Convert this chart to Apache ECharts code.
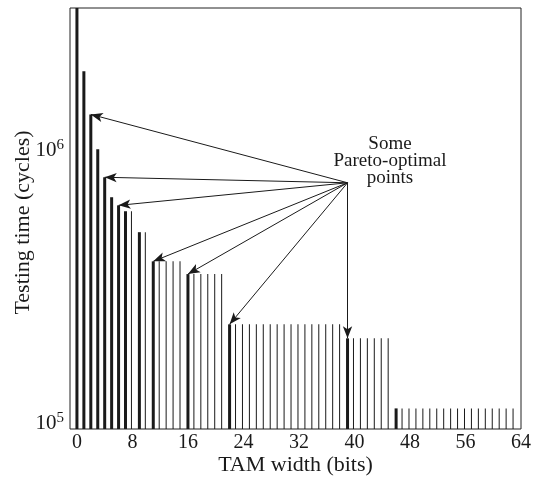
<!DOCTYPE html>
<html>
<head>
<meta charset="utf-8">
<script src="https://cdn.jsdelivr.net/npm/echarts@6/dist/echarts.min.js"></script>
<style>
  html, body { margin: 0; padding: 0; background: #fff; }
  #chart { width: 535px; height: 483px; }
</style>
</head>
<body>
<div id="chart"></div>
<script>
// testing time (cycles) for each bar, left to right
const times = [
  3.5e6, 2.05e6, 1.425e6, 1.061e6, 8.38e5, 7.08e5, 6.61e5, 6.29e5, 6.29e5, 5.27e5, 5.27e5,
  4.12e5, 4.12e5, 4.12e5, 4.12e5, 4.12e5,
  3.70e5, 3.70e5, 3.70e5, 3.70e5, 3.70e5, 3.70e5,
  2.42e5, 2.42e5, 2.42e5, 2.42e5, 2.42e5, 2.42e5, 2.42e5, 2.42e5, 2.42e5,
  2.42e5, 2.42e5, 2.42e5, 2.42e5, 2.42e5, 2.42e5, 2.42e5, 2.42e5,
  2.15e5, 2.15e5, 2.15e5, 2.15e5, 2.15e5, 2.15e5, 2.15e5,
  1.19e5, 1.19e5, 1.19e5, 1.19e5, 1.19e5, 1.19e5, 1.19e5, 1.19e5, 1.19e5,
  1.19e5, 1.19e5, 1.19e5, 1.19e5, 1.19e5, 1.19e5, 1.19e5, 1.19e5, 1.19e5
]
// bars drawn thick (time drops vs previous width)
const thickIdx = [0, 1, 2, 3, 4, 5, 6, 7, 9, 11, 16, 22, 39, 46]
// bars the arrows point at
const paretoIdx = [2, 4, 6, 11, 16, 22, 39]
const xTicks = [0, 8, 16, 24, 32, 40, 48, 56, 64]
const arrowFrom = [39, 8e5]

const font = 'Liberation Serif'
const ink = '#1a1a1a'

const thick = thickIdx.map(i => [i, times[i]])
const thin = times.map((v, i) => [i, v]).filter(d => !thickIdx.includes(d[0]))
const arrows = paretoIdx.map(i => [
  { coord: arrowFrom },
  { coord: [i, times[i]] }
])

const chart = echarts.init(document.getElementById('chart'))
chart.setOption({
  animation: false,
  grid: {
    left: 70, top: 8, width: 451, height: 421,
    outerBoundsMode: 'none',
    containLabel: false,
    show: true, borderColor: '#222', borderWidth: 1
  },
  xAxis: {
    type: 'value',
    min: -1,
    max: 64,
    name: 'TAM width (bits)',
    nameLocation: 'middle',
    nameGap: 25,
    nameMoveOverlap: false,
    nameTextStyle: { fontFamily: font, fontSize: 22, color: ink },
    axisLine: { show: false },
    axisTick: { show: false },
    splitLine: { show: false },
    axisLabel: {
      customValues: xTicks,
      showMaxLabel: true,
      margin: 4,
      fontFamily: font, fontSize: 20, color: ink
    }
  },
  yAxis: {
    type: 'log',
    logBase: 10,
    min: 1e5,
    max: 3.5e6,
    name: 'Testing time (cycles)',
    nameLocation: 'middle',
    nameGap: 36,
    nameMoveOverlap: false,
    nameTextStyle: { fontFamily: font, fontSize: 22, color: ink, padding: [0, 8, 0, 0] },
    axisLine: { show: false },
    axisTick: { show: false },
    splitLine: { show: false },
    axisLabel: {
      margin: 6,
      verticalAlign: 'middle',
      padding: [0, 0, 12, 0],
      showMaxLabel: false,
      formatter: v => {
        const e = Math.log10(v)
        if (Math.abs(e - Math.round(e)) > 1e-6) return ''
        return '{b|10}{s|' + Math.round(e) + '}'
      },
      rich: {
        b: { fontFamily: font, fontSize: 21, color: ink },
        s: { fontFamily: font, fontSize: 15, color: ink, padding: [0, 0, 10, 0] }
      }
    }
  },
  graphic: [{
    type: 'text',
    x: 390, y: 161,
    style: {
      text: 'Some\nPareto-optimal\npoints',
      align: 'center',
      verticalAlign: 'middle',
      textAlign: 'center',
      textVerticalAlign: 'middle',
      fontFamily: font, fontSize: 19, lineHeight: 17,
      fill: ink
    }
  }],
  series: [{
    type: 'bar',
    data: thin,
    barWidth: 1,
    barGap: '-100%',
    itemStyle: { color: ink },
    silent: true
  }, {
    type: 'bar',
    data: thick,
    barWidth: 3,
    barGap: '-100%',
    itemStyle: { color: ink },
    silent: true,
    markLine: {
      silent: true,
      symbol: ['none', 'arrow'],
      symbolSize: [7, 12],
      label: { show: false },
      lineStyle: { color: ink, width: 1, type: 'solid' },
      data: arrows
    }
  }]
})
</script>
</body>
</html>
